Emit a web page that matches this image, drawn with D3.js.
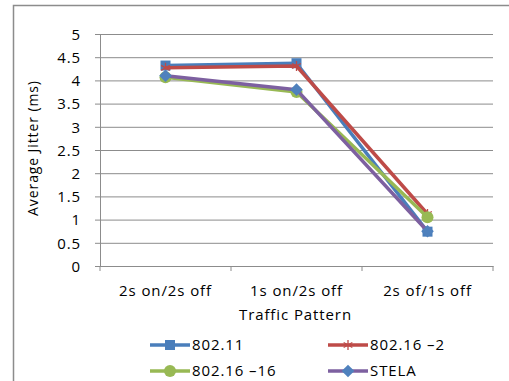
<!DOCTYPE html>
<html>
<head>
<meta charset="utf-8">
<script src="https://cdn.jsdelivr.net/npm/d3@7"></script>
<style>
  body { margin: 0; background: #fff; }
  svg text { font-family: "Open Sans", sans-serif; fill: #000; letter-spacing: 0.9px; }
</style>
</head>
<body>
<svg width="509" height="381"></svg>
<script>
const categories = ['2s on/2s off', '1s on/2s off', '2s of/1s off'];
const yTicks = [0, 0.5, 1, 1.5, 2, 2.5, 3, 3.5, 4, 4.5, 5];
const seriesNames = ['802.11', '802.16 \u20132', '802.16 \u201316', 'STELA'];
const v80211 = [4.32, 4.37, 0.74];
const v80216_2 = [4.27, 4.31, 1.12];
const v80216_16 = [4.07, 3.75, 1.05];
const vStela = [4.1, 3.8, 0.75];

const svg = d3.select('svg');
const colors = ['#4a7ebb', '#be4b48', '#98b954', '#7d60a0'];
const series = [v80211, v80216_2, v80216_16, vStela].map((vals, i) => ({
  name: seriesNames[i], color: colors[i], marker: i,
  points: vals.map((v, j) => ({ cat: categories[j], v }))
}));

const margin = { top: 34, left: 100 };
const innerW = 493 - margin.left;
const innerH = 266 - margin.top;
const fs = 15;

// outer chart border
svg.append('rect')
  .attr('x', 13.5).attr('y', 5.5)
  .attr('width', 520).attr('height', 400)
  .attr('fill', 'none').attr('stroke', '#8c8c8c').attr('stroke-width', 1.5);

const g = svg.append('g').attr('transform', `translate(${margin.left},${margin.top})`);

const x = d3.scaleBand().domain(categories).range([0, innerW]);
const y = d3.scaleLinear().domain([0, 5]).range([innerH, 0]);

// gridlines + y labels
const yAxis = d3.axisLeft(y).tickValues(yTicks).tickSize(-innerW).tickPadding(19)
  .tickFormat(d3.format('~g'));
const yG = g.append('g').call(yAxis);
yG.select('.domain').remove();
yG.selectAll('line').attr('stroke', '#8c8c8c').attr('stroke-width', 1);
yG.selectAll('text').attr('font-size', fs).attr('dy', '0.35em');

// y axis line and ticks
const yLine = g.append('g').call(d3.axisLeft(y).tickValues(yTicks).tickSize(5).tickFormat(''));
yLine.selectAll('path,line').attr('stroke', '#8c8c8c');

// x axis
const xAxis = d3.axisBottom(x).tickSize(0).tickPadding(19);
const xG = g.append('g').attr('transform', `translate(0,${innerH})`).call(xAxis);
xG.select('.domain').attr('stroke', '#8c8c8c');
xG.selectAll('text').attr('font-size', fs);
const xTickPos = categories.map(c => x(c)).concat([innerW]);
xG.selectAll('.sep').data(xTickPos).enter().append('line')
  .attr('x1', d => d).attr('x2', d => d).attr('y1', 0).attr('y2', 5)
  .attr('stroke', '#8c8c8c');

// axis titles
svg.append('text')
  .attr('transform', `translate(38,${margin.top + innerH / 2 - 2}) rotate(-90)`)
  .attr('text-anchor', 'middle').attr('font-size', 14)
  .text('Average Jitter (ms)');
svg.append('text')
  .attr('x', margin.left + innerW / 2 - 1).attr('y', 320)
  .attr('text-anchor', 'middle').attr('font-size', fs)
  .text('Traffic Pattern');

function drawMarker(sel, m, color) {
  if (m === 0) {
    sel.append('rect').attr('x', -5).attr('y', -5).attr('width', 10).attr('height', 10)
      .attr('fill', '#4a7ebb');
  } else if (m === 1) {
    sel.append('path').attr('d', d3.symbol(d3.symbolAsterisk, 70)())
      .attr('fill', 'none').attr('stroke', color).attr('stroke-width', 1.3);
  } else if (m === 2) {
    sel.append('circle').attr('r', 6).attr('fill', color);
  } else {
    sel.append('path').attr('d', d3.symbol(d3.symbolSquare, 80)())
      .attr('transform', 'rotate(45)').attr('fill', '#4f81bd');
  }
}

const line = d3.line()
  .x(d => x(d.cat) + x.bandwidth() / 2)
  .y(d => y(d.v));

series.forEach(s => {
  g.append('path').datum(s.points).attr('d', line)
    .attr('fill', 'none').attr('stroke', s.color).attr('stroke-width', 3.5)
    .attr('stroke-linejoin', 'round');
  s.points.forEach(p => {
    const mg = g.append('g')
      .attr('transform', `translate(${x(p.cat) + x.bandwidth() / 2},${y(p.v)})`);
    drawMarker(mg, s.marker, s.color);
  });
});

// legend
const legendPos = [[150, 345], [328, 345], [150, 371], [328, 371]];
series.forEach((s, i) => {
  const lg = svg.append('g').attr('transform', `translate(${legendPos[i][0]},${legendPos[i][1]})`);
  lg.append('line').attr('x1', 0).attr('x2', 40).attr('y1', 0).attr('y2', 0)
    .attr('stroke', s.color).attr('stroke-width', 3.5);
  drawMarker(lg.append('g').attr('transform', 'translate(20,0)'), s.marker, s.color);
  lg.append('text').attr('x', 42).attr('dy', '0.35em').attr('font-size', fs).text(s.name);
});
</script>
</body>
</html>
